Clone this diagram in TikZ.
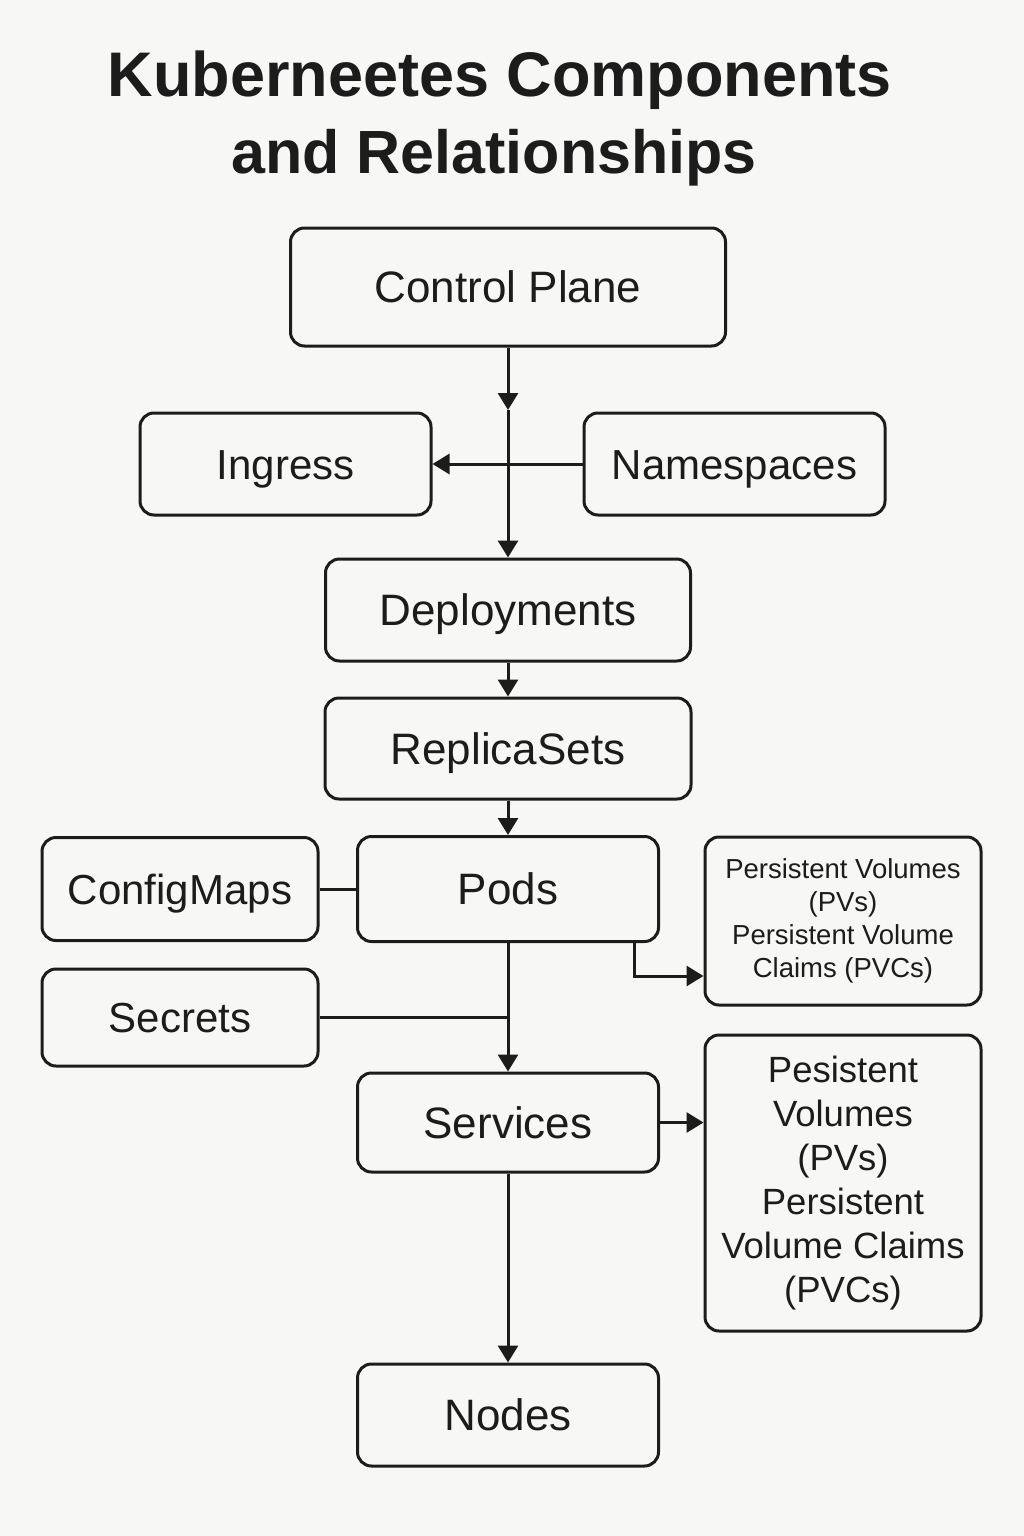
\documentclass[tikz,border=0pt]{standalone}
\usepackage{fontspec}
\setmainfont{Liberation Sans}
\usetikzlibrary{arrows.meta,calc}
\definecolor{ink}{HTML}{1C1C1C}
\definecolor{paper}{HTML}{F7F7F5}
\begin{document}
\begin{tikzpicture}[x=1pt,y=-1pt,
  box/.style={draw=ink,line width=3pt,rounded corners=14pt,fill=paper,inner sep=0pt,align=center,text=ink,
    font=\fontsize{44}{52}\selectfont},
  one/.style={text height=31.5pt,text depth=0pt},
  smallish/.style={font=\fontsize{42}{50}\selectfont,text height=30pt,text depth=0pt},
  conn/.style={draw=ink,line width=3pt},
  arr/.style={conn,-{Triangle[length=17pt,width=20pt]}}]
\fill[paper] (0,0) rectangle (1024,1536);
\useasboundingbox (0,0) rectangle (1024,1536);

% title
\node[anchor=base,text=ink,font=\fontsize{63}{76}\bfseries\selectfont] (t1) at (500,97) {Kuberneetes Components};
\node[anchor=base,text=ink,font=\fontsize{61}{76}\bfseries\selectfont] (t2) at (494,173) {and Relationships};

% boxes
\node[box,one,minimum width=435pt,minimum height=118pt] (cp) at (508,287) {Control Plane};
\node[box,smallish,minimum width=291pt,minimum height=102pt] (ing) at (285.5,464) {Ingress};
\node[box,smallish,minimum width=301pt,minimum height=102pt] (ns) at (734.5,464) {Namespaces};
\node[box,one,minimum width=365pt,minimum height=102pt] (dep) at (508,610) {Deployments};
\node[box,one,minimum width=366pt,minimum height=101pt] (rs) at (508,748.5) {ReplicaSets};
\node[box,smallish,minimum width=276pt,minimum height=103pt] (cm) at (180,889) {ConfigMaps};
\node[box,one,minimum width=301pt,minimum height=105pt] (pods) at (508,889) {Pods};
\node[box,minimum width=276pt,minimum height=168pt,font=\fontsize{27.5}{33}\selectfont] (pv1) at (843,921)
  {Persistent Volumes\\(PVs)\\Persistent Volume\\Claims (PVCs)};
\node[box,smallish,minimum width=276pt,minimum height=97pt] (sec) at (180,1017.5) {Secrets};
\node[box,one,minimum width=301pt,minimum height=99pt] (svc) at (508,1122.5) {Services};
\node[box,minimum width=276pt,minimum height=296pt,font=\fontsize{36.5}{44}\selectfont] (pv2) at (843,1183)
  {Pesistent\\Volumes\\(PVs)\\Persistent\\Volume Claims\\(PVCs)};
\node[box,one,minimum width=301pt,minimum height=102pt] (nodes) at (508,1415) {Nodes};

% connectors
\coordinate (m1) at (508,410);
\draw[arr] (cp.south) -- (m1);
\draw[arr] (m1) -- (dep.north);
\draw[arr] (ns.west) -- (ing.east);
\draw[arr] (dep.south) -- (rs.north);
\draw[arr] (rs.south) -- (pods.north);
\draw[conn] (cm.east) -- (pods.west);
\draw[arr] (pods.south) -- (svc.north);
\draw[conn] (sec.east) -- (sec.east -| pods.south);
\coordinate (k) at (634,976);
\draw[arr] (pods.south -| k) -- (k) -- (k -| pv1.west);
\draw[arr] (svc.east) -- (svc.east -| pv2.west);
\draw[arr] (svc.south) -- (nodes.north);
\end{tikzpicture}
\end{document}
